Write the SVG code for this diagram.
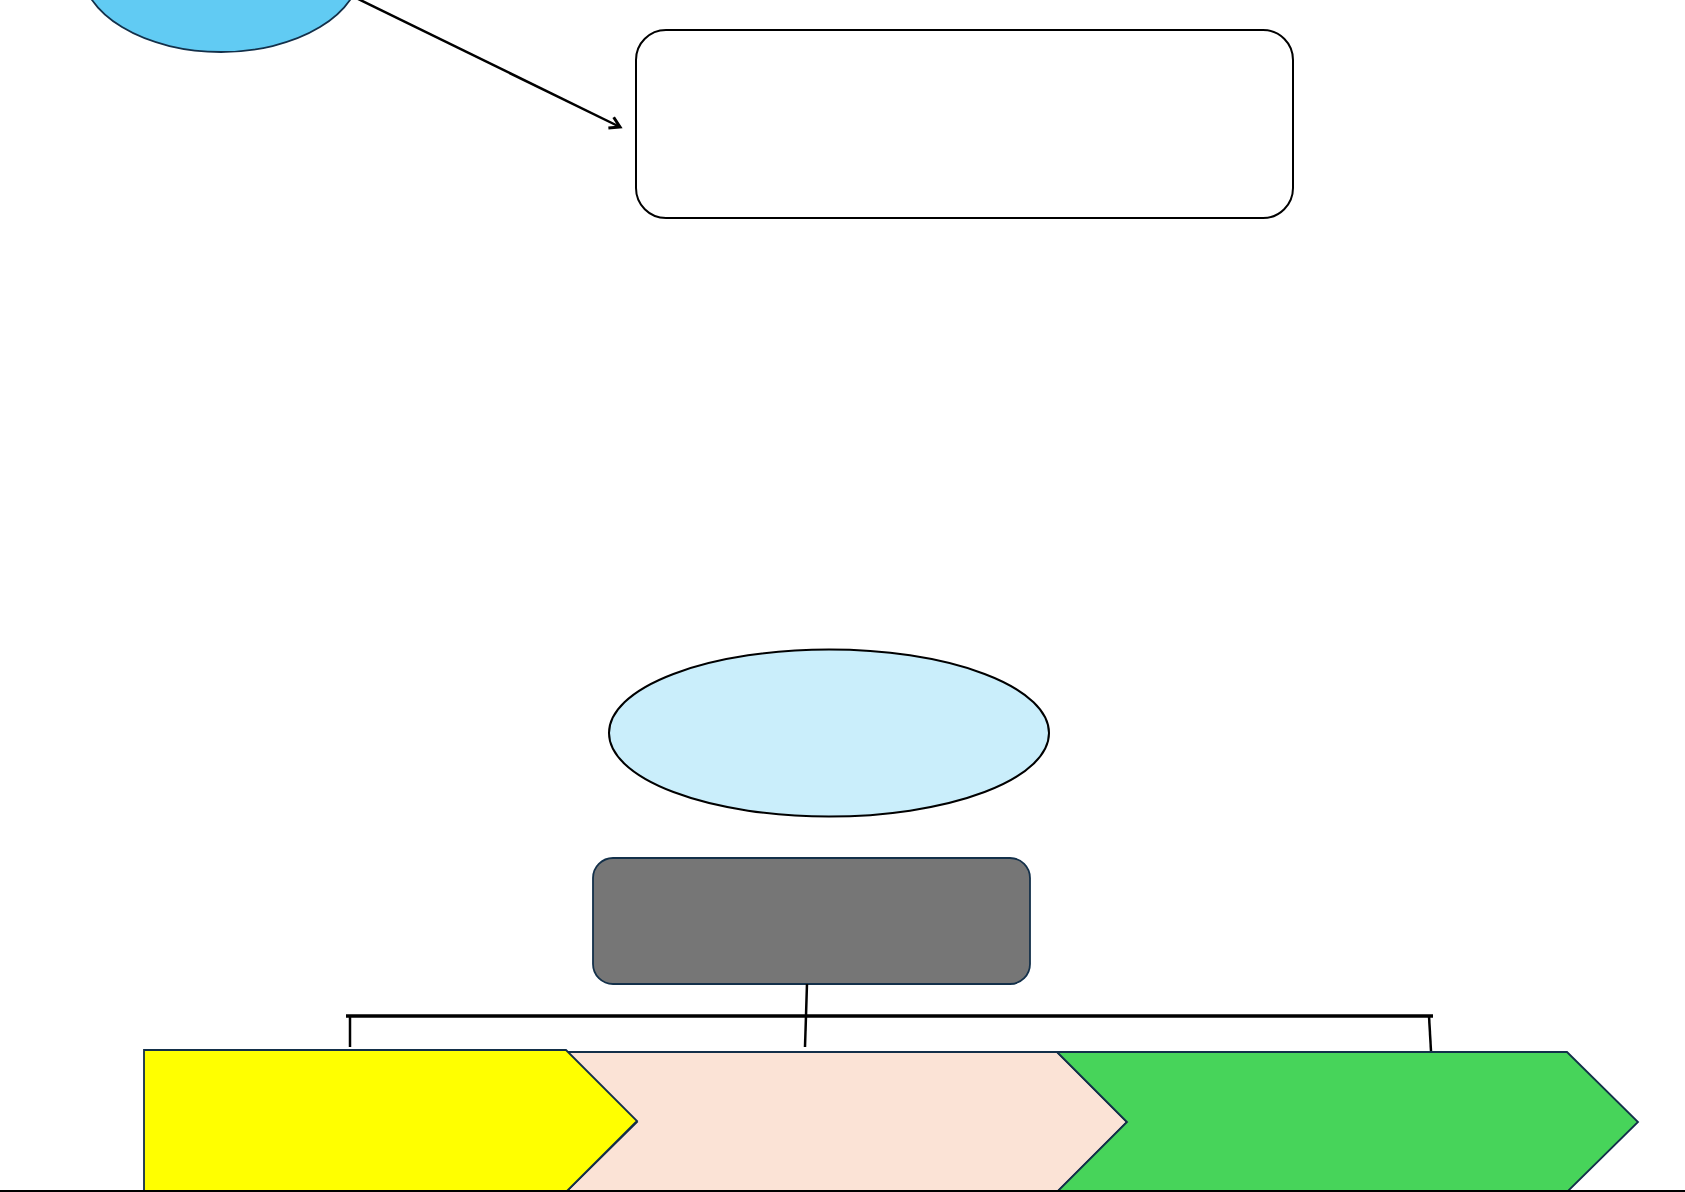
<svg xmlns="http://www.w3.org/2000/svg" width="1685" height="1192" viewBox="0 0 1685 1192">
<style>
.navy{stroke:#13304A;stroke-width:1.8}
.conn{stroke:#000;stroke-width:2.5;fill:none}
</style>
<defs>
<marker id="open" markerWidth="16" markerHeight="16" refX="12" refY="8" orient="auto" markerUnits="userSpaceOnUse">
<path d="M2,2 L12,8 L2,14" fill="none" stroke="#000" stroke-width="3"/>
</marker>
</defs>
<rect width="1685" height="1192" fill="#fff"/>
<g id="node-top-ellipse"><ellipse cx="221" cy="-33" rx="140" ry="85" fill="#61CBF3" class="navy"/></g>
<g id="node-top-rect"><rect x="636" y="30" width="657" height="188" rx="30" ry="30" fill="#fff" stroke="#000" stroke-width="2"/></g>
<g id="node-light-ellipse"><ellipse cx="829" cy="733" rx="220" ry="83.5" fill="#CAEEFB" stroke="#000" stroke-width="2"/></g>
<g id="node-gray-rect"><rect x="593" y="858" width="437" height="126" rx="20" ry="20" fill="#767676" class="navy"/></g>
<g id="node-peach"><polygon points="566,1052 1057,1052 1127,1122 1057,1192 566,1192 637,1122" fill="#FBE3D6" class="navy"/></g>
<g id="node-green"><polygon points="1057,1052 1567,1052 1638,1122 1567,1192 1057,1192 1127,1122" fill="#47D45A" class="navy"/></g>
<g id="node-yellow"><polygon points="144,1050 566,1050 637,1121 566,1192 144,1192" fill="#FFFF00" class="navy"/></g>
<g id="connectors">
<line x1="348" y1="-6" x2="620" y2="127" class="conn" marker-end="url(#open)"/>
<line x1="807" y1="984" x2="805" y2="1047" class="conn"/>
<line x1="346" y1="1016" x2="1433" y2="1016" stroke="#000" stroke-width="3.5"/>
<line x1="350" y1="1016" x2="350" y2="1047" class="conn"/>
<line x1="1429" y1="1016" x2="1431" y2="1051" class="conn"/>
</g>
<line x1="0" y1="1191" x2="1685" y2="1191" stroke="#000" stroke-width="2"/>
</svg>
